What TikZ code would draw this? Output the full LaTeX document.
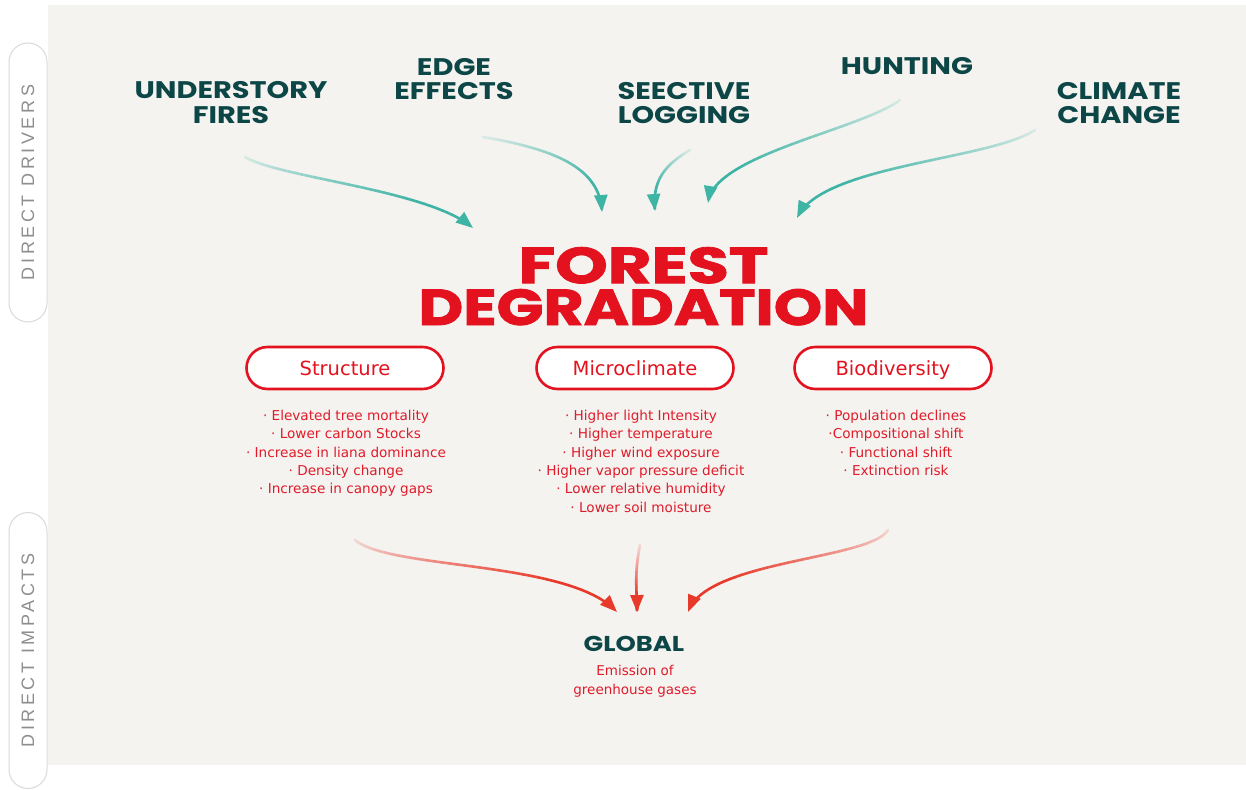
\documentclass[tikz,border=0pt]{standalone}
\usepackage{fontspec}
\setmainfont{DejaVu Sans}
\newfontfamily\headfont{Poppins}[FakeStretch=1.2]
\newfontfamily\titlefont{Poppins}[BoldFeatures={FakeBold=1.6}]
\newfontfamily\sidefont{Liberation Sans}[LetterSpace=20]
\usetikzlibrary{arrows.meta}
\definecolor{bg}{HTML}{F4F3F0}
\definecolor{ink}{HTML}{0C4646}
\definecolor{fred}{HTML}{E3121E}
\definecolor{lred}{HTML}{E01B2A}
\definecolor{tealA}{RGB}{62,180,165}
\definecolor{redA}{RGB}{232,58,42}
\definecolor{sidegrey}{HTML}{8E8E8E}
\definecolor{pillgrey}{HTML}{DADADA}

% gradient curved arrow: start, control 1, control 2, end, dark colour
\newcommand\gradarrow[5]{%
  \path (#1) .. controls #2 and #3 .. (#4)
    \foreach \k in {0,...,40}{ coordinate[pos=\k/40] (gp\k) };
  \foreach \k in {1,...,39}{%
    \pgfmathtruncatemacro\gprev{\k-1}%
    \pgfmathtruncatemacro\gmix{min(100,12+120*\k/40)}%
    \draw[line width=2.6pt, line cap=round, #5!\gmix!bg] (gp\gprev) -- (gp\k);
  }
  \draw[line width=2.6pt, #5, -{Triangle[length=17pt,width=13pt]}] (gp39) -- (gp40);
}

\begin{document}
\begin{tikzpicture}[x=1pt,y=-1pt,
  sidepill/.style={draw=pillgrey, fill=white, line width=1pt, rounded corners=19pt,
    minimum height=38pt, rotate=90, text=sidegrey, inner sep=0pt,
    font=\sidefont\fontsize{18}{18}\selectfont},
  driver/.style={font=\headfont\bfseries\fontsize{24}{24.5}\selectfont, text=ink,
    align=center, inner sep=0pt, anchor=base},
  title/.style={font=\titlefont\bfseries, text=fred, inner sep=0pt, anchor=base,
    align=center},
  pill/.style={draw=fred, line width=2.6pt, fill=white, rounded corners=21pt,
    minimum width=197pt, minimum height=42pt, text=fred,
    text height=14.2pt, text depth=0pt,
    font=\fontsize{19.5}{20}\selectfont},
  list/.style={align=center, text=lred, font=\fontsize{13.6}{18.33}\selectfont,
    inner sep=0pt, anchor=base}]
\useasboundingbox (0,0) rectangle (1246,789);
\fill[white] (0,0) rectangle (1246,789);
\fill[bg] (48,5) rectangle (1246,765);

% side labels
\node[sidepill, minimum width=279pt] (drivers) at (28,182.5) {DIRECT DRIVERS};
\node[sidepill, minimum width=276pt] (impacts) at (28,650.5) {DIRECT IMPACTS};

% drivers (base = baseline of the last line)
\node[driver] (fires) at (231,123) {UNDERSTORY\\FIRES};
\node[driver] (edge) at (454,99.5) {EDGE\\EFFECTS};
\node[driver] (logging) at (684,123.5) {SEECTIVE\\LOGGING};
\node[driver] (hunting) at (907,75) {HUNTING};
\node[driver] (climate) at (1119,123.5) {CLIMATE\\CHANGE};

% arrow coordinates
\coordinate (a1s) at (245,157); \coordinate (a1e) at (473,228);
\coordinate (a2s) at (483,137); \coordinate (a2e) at (602,212);
\coordinate (a3s) at (690,150); \coordinate (a3e) at (655,211);
\coordinate (a4s) at (900,100); \coordinate (a4e) at (708,203);
\coordinate (a5s) at (1035,130); \coordinate (a5e) at (797,218);
\gradarrow{a1s}{(280,178)}{(430,190)}{a1e}{tealA}
\gradarrow{a2s}{(560,150)}{(600,170)}{a2e}{tealA}
\gradarrow{a3s}{(665,165)}{(652,180)}{a3e}{tealA}
\gradarrow{a4s}{(860,130)}{(712,155)}{a4e}{tealA}
\gradarrow{a5s}{(990,160)}{(820,165)}{a5e}{tealA}

% title
\node[title] (title) at (643.5,325) {\resizebox{250pt}{36pt}{FOREST}\\[4.5pt]\resizebox{450pt}{36pt}{DEGRADATION}};

% categories
\node[pill] (structure) at (345,368) {Structure};
\node[pill] (micro) at (635,368) {Microclimate};
\node[pill] (bio) at (893,368) {Biodiversity};

\node[list] (slist) at (346,493.8) {· Elevated tree mortality\\· Lower carbon Stocks\\· Increase in liana dominance\\· Density change\\· Increase in canopy gaps};
\node[list] (mlist) at (641,512.2) {· Higher light Intensity\\· Higher temperature\\· Higher wind exposure\\· Higher vapor pressure deficit\\· Lower relative humidity\\· Lower soil moisture};
\node[list] (blist) at (896,475.5) {· Population declines\\·Compositional shift\\· Functional shift\\· Extinction risk};

% impact arrows
\coordinate (r1s) at (355,540); \coordinate (r1e) at (617,612);
\coordinate (r2s) at (640,545); \coordinate (r2e) at (637,612);
\coordinate (r3s) at (888,530); \coordinate (r3e) at (688,612);
\gradarrow{r1s}{(390,570)}{(570,560)}{r1e}{redA}
\gradarrow{r2s}{(634,575)}{(637,590)}{r2e}{redA}
\gradarrow{r3s}{(870,560)}{(705,560)}{r3e}{redA}

% global
\node[anchor=base, inner sep=0pt, text=ink, font=\headfont\bfseries\fontsize{21.5}{22}\selectfont] (global) at (634,651) {GLOBAL};
\node[list, font=\fontsize{13.5}{19}\selectfont] (emission) at (635,694) {Emission of\\greenhouse gases};
\end{tikzpicture}
\end{document}
